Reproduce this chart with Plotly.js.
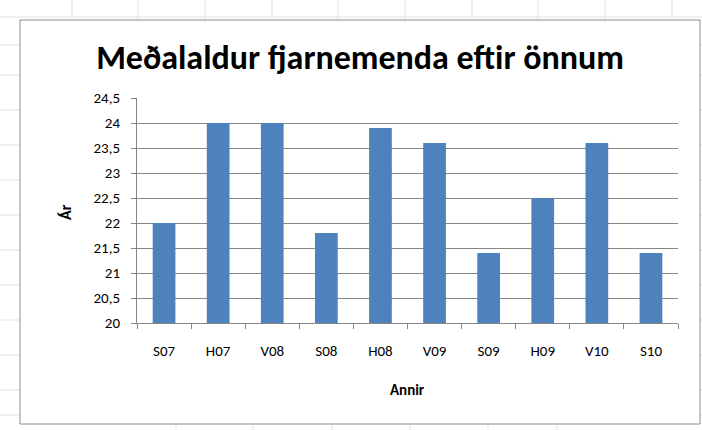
<!DOCTYPE html>
<html>
<head>
<meta charset="utf-8">
<script src="https://cdn.plot.ly/plotly-3.0.1.min.js"></script>
<style>html,body{margin:0;padding:0;background:#fff}#chart{width:702px;height:430px}</style>
</head>
<body>
<div id="chart"></div>
<script>
const categories = ["S07","H07","V08","S08","H08","V09","S09","H09","V10","S10"];
const values = [22, 24, 24, 21.8, 23.9, 23.6, 21.4, 22.5, 23.6, 21.4];
const yTicks = [20, 20.5, 21, 21.5, 22, 22.5, 23, 23.5, 24, 24.5];
const xTitle = "Annir";
const yTitle = "Ár";

const FONT = "Carlito, 'Liberation Sans Narrow', Roboto, sans-serif";
const W = 702, H = 430;
const M = {l: 137, r: 24, t: 98, b: 107};
const PW = W - M.l - M.r, PH = H - M.t - M.b;
const px = X => (X - M.l) / PW;
const py = Y => (H - M.b - Y) / PH;

const shapes = [];
const sheet = {color: "#dbe3ee", width: 1};
// spreadsheet background lines
[72,138,205,272,338,405,472,538,605,672].forEach(X => shapes.push({type:"line",xref:"paper",yref:"paper",layer:"below",x0:px(X),x1:px(X),y0:py(0),y1:py(20),line:sheet}));
[176,253,332,410,488,557].forEach(X => shapes.push({type:"line",xref:"paper",yref:"paper",layer:"below",x0:px(X),x1:px(X),y0:py(425),y1:py(430),line:sheet}));
shapes.push({type:"line",xref:"paper",yref:"paper",layer:"below",x0:px(0),x1:px(702),y0:py(17),y1:py(17),line:sheet});
[45,75,110,145,180,215,250,285,320,355,390,415].forEach(Y => {
  shapes.push({type:"line",xref:"paper",yref:"paper",layer:"below",x0:px(0),x1:px(20),y0:py(Y),y1:py(Y),line:sheet});
  shapes.push({type:"line",xref:"paper",yref:"paper",layer:"below",x0:px(700),x1:px(702),y0:py(Y),y1:py(Y),line:sheet});
});
// chart frame
shapes.push({type:"rect",xref:"paper",yref:"paper",layer:"below",x0:px(20),x1:px(700),y0:py(424),y1:py(20),line:{color:"#8c8c8c",width:1},fillcolor:"#ffffff"});

const data = [{
  type: "bar",
  x: categories,
  y: values,
  marker: {color: "#4f81bd", line: {width: 0}},
  hoverinfo: "skip"
}];

const layout = {
  width: W, height: H,
  margin: M,
  paper_bgcolor: "#ffffff",
  plot_bgcolor: "rgba(0,0,0,0)",
  separators: ",.",
  bargap: 0.58,
  showlegend: false,
  font: {family: FONT, color: "#000", size: 15},
  title: {text: "<b>Meðalaldur fjarnemenda eftir önnum</b>", font: {family: FONT, size: 34, color: "#000"}, x: px(360), xref: "paper", xanchor: "center", y: 1 - 57/H, yanchor: "middle"},
  xaxis: {
    type: "category",
    showline: true, linecolor: "#868686", linewidth: 1,
    ticks: "outside", ticklen: 5, tickcolor: "#868686", tickson: "boundaries",
    ticklabelstandoff: 14,
    showgrid: false, zeroline: false,
    tickfont: {family: FONT, size: 15, color: "#000"},
    fixedrange: true
  },
  yaxis: {
    range: [20, 24.5],
    tickvals: yTicks,
    tickformat: ".1~f",
    showline: true, linecolor: "#868686", linewidth: 1,
    ticks: "outside", ticklen: 5, tickcolor: "#868686",
    ticklabelstandoff: 8,
    showgrid: true, gridcolor: "#868686", gridwidth: 1,
    zeroline: false,
    tickfont: {family: FONT, size: 15, color: "#000"},
    fixedrange: true
  },
  annotations: [
    {text: "<b>" + xTitle + "</b>", xref: "paper", yref: "paper", x: px(407), y: py(390), xanchor: "center", yanchor: "middle", showarrow: false, font: {family: FONT, size: 15, color: "#000"}},
    {text: "<b>" + yTitle + "</b>", xref: "paper", yref: "paper", x: px(65), y: py(212), xanchor: "center", yanchor: "middle", textangle: -90, showarrow: false, font: {family: FONT, size: 16, color: "#000"}}
  ],
  shapes: shapes
};

Plotly.newPlot("chart", data, layout, {displayModeBar: false, staticPlot: true});
</script>
</body>
</html>
